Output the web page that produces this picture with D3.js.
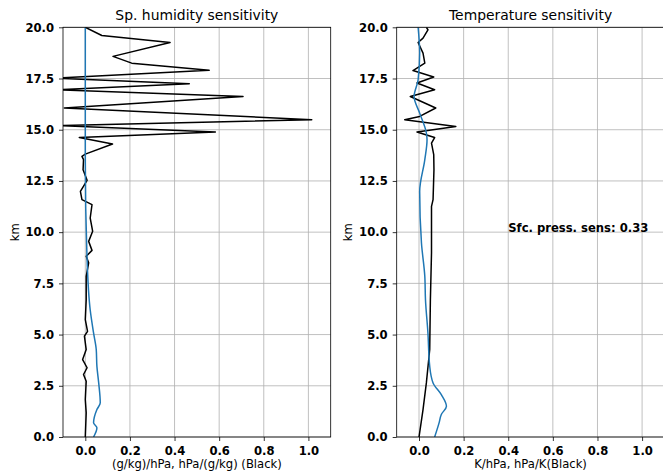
<!DOCTYPE html>
<html>
<head>
<meta charset="utf-8">
<script src="https://cdn.jsdelivr.net/npm/d3@7"></script>
<style>
  body { margin: 0; background: #fff; }
  text { font-family: "DejaVu Sans", sans-serif; }
</style>
</head>
<body>
<svg id="chart" width="663" height="475"></svg>
<script>
// --- data ---
const humBlackKm  = [20, 19.6, 19.26, 18.58, 18.25, 17.9, 17.52, 17.24, 16.95, 16.62, 16.06, 15.49, 15.2, 14.89, 14.62, 14.3, 13.81, 13.7, 13.54, 13.05, 12.53, 11.99, 11.59, 11.34, 10.69, 10.04, 9.55, 9.11, 8.82, 8.5, 7.84, 6.7, 5.73, 5.16, 4.92, 4.27, 3.78, 3.38, 3.05, 2.72, 1.83, 1.18, 0];
const humBlackVal = [0, 0.074, 0.38, 0.124, 0.208, 0.555, -0.13, 0.466, -0.12, 0.707, -0.094, 1.015, -0.12, 0.583, -0.027, 0.122, 0, -0.015, -0.008, -0.01, 0.008, -0.022, -0.015, 0.03, 0.022, 0.033, 0.015, 0.03, 0.004, 0.015, 0.004, 0.004, 0, 0.01, -0.004, 0.004, -0.012, 0.008, -0.008, 0.004, 0, 0.004, 0];

const humBlueKm  = [20, 13.5, 8.66, 6.2, 5.08, 4.27, 3.45, 2.64, 1.67, 1.34, 0.69, 0.45, 0];
const humBlueVal = [0, 0, 0.008, 0.022, 0.037, 0.049, 0.052, 0.06, 0.067, 0.052, 0.037, 0.052, 0.037];

const tempBlackKm  = [20, 19.88, 19.47, 19.26, 18.74, 18.25, 17.89, 17.57, 17.28, 16.95, 16.62, 16.06, 15.65, 15.49, 15.16, 14.89, 14.62, 14.35, 13.78, 13.05, 11.59, 11.26, 8.98, 6.7, 4.27, 2.64, 1.34, 0];
const tempBlackVal = [0.033, 0.04, 0.018, -0.004, 0.018, 0.026, -0.027, 0.066, -0.009, 0.07, -0.039, 0.075, 0.003, -0.064, 0.165, -0.009, 0.07, 0.056, 0.066, 0.067, 0.063, 0.056, 0.056, 0.051, 0.048, 0.033, 0.018, 0];

const tempBlueKm  = [20, 18.74, 17.44, 16.62, 15.81, 14.84, 14.51, 13.54, 11.99, 9.47, 7.84, 6.7, 5.08, 3.45, 2.64, 2.07, 1.5, 1.1, 0.69, 0];
const tempBlueVal = [-0.004, 0.003, -0.004, -0.022, 0.003, 0.033, 0.036, 0.026, 0.003, 0.011, 0.026, 0.029, 0.04, 0.048, 0.063, 0.1, 0.123, 0.1, 0.09, 0.07];

const xTicks = [0.0, 0.2, 0.4, 0.6, 0.8, 1.0];
const yTicks = [0, 2.5, 5, 7.5, 10, 12.5, 15, 17.5, 20];

const panels = [
  { title: 'Sp. humidity sensitivity', xlabel: '(g/kg)/hPa, hPa/(g/kg) (Black)', left: 63,
    black: [humBlackVal, humBlackKm], blue: [humBlueVal, humBlueKm], note: null },
  { title: 'Temperature sensitivity', xlabel: 'K/hPa, hPa/K(Black)', left: 396.7,
    black: [tempBlackVal, tempBlackKm], blue: [tempBlueVal, tempBlueKm], note: 'Sfc. press. sens: 0.33' }
];

const W = 267.7, yTop = 27.3, yBot = 437;
const svg = d3.select('#chart');

panels.forEach((p, i) => {
  const x = d3.scaleLinear().domain([-0.1, 1.1]).range([p.left, p.left + W]);
  const y = d3.scaleLinear().domain([0, 20]).range([yBot, yTop]);
  const g = svg.append('g');

  g.append('clipPath').attr('id', 'clip' + i)
    .append('rect').attr('x', p.left).attr('y', yTop).attr('width', W).attr('height', yBot - yTop);

  // grid
  g.selectAll('.gx').data(xTicks).join('line')
    .attr('x1', d => x(d)).attr('x2', d => x(d)).attr('y1', yTop).attr('y2', yBot)
    .attr('stroke', '#b0b0b0').attr('stroke-width', 0.8);
  g.selectAll('.gy').data(yTicks).join('line')
    .attr('x1', p.left).attr('x2', p.left + W).attr('y1', d => y(d)).attr('y2', d => y(d))
    .attr('stroke', '#b0b0b0').attr('stroke-width', 0.8);

  const line = d3.line().x(d => x(d[0])).y(d => y(d[1]));
  const zipped = s => s[0].map((v, k) => [v, s[1][k]]);

  const plot = g.append('g').attr('clip-path', `url(#clip${i})`);
  plot.append('path').datum(zipped(p.black))
    .attr('d', line).attr('fill', 'none').attr('stroke', 'black').attr('stroke-width', 1.5)
    .attr('stroke-linejoin', 'round');
  plot.append('path').datum(zipped(p.blue))
    .attr('d', line.curve(d3.curveMonotoneY)).attr('fill', 'none').attr('stroke', '#1f77b4').attr('stroke-width', 1.5);

  // axes
  const xAxis = g.append('g').attr('transform', `translate(0,${yBot})`)
    .call(d3.axisBottom(x).tickValues(xTicks).tickFormat(d3.format('.1f')).tickSize(4).tickPadding(5.5));
  const yAxis = g.append('g').attr('transform', `translate(${p.left},0)`)
    .call(d3.axisLeft(y).tickValues(yTicks).tickFormat(d3.format('.1f')).tickSize(4).tickPadding(5));
  [xAxis, yAxis].forEach(a => {
    a.select('.domain').remove();
    a.selectAll('text').attr('font-family', 'DejaVu Sans').attr('font-size', 11.6)
      .attr('font-weight', 'bold').attr('fill', 'black');
    a.selectAll('line').attr('stroke', 'black').attr('stroke-width', 0.8);
  });

  // spines
  g.append('rect').attr('x', p.left).attr('y', yTop).attr('width', W).attr('height', yBot - yTop)
    .attr('fill', 'none').attr('stroke', 'black').attr('stroke-width', 0.8);

  g.append('text').attr('x', p.left + W / 2).attr('y', yTop - 7).attr('text-anchor', 'middle')
    .attr('font-size', 13.9).text(p.title);
  g.append('text').attr('x', p.left + W / 2).attr('y', 468).attr('text-anchor', 'middle')
    .attr('font-size', 11.6).text(p.xlabel);
  g.append('text').attr('transform', `translate(${p.left - 44.5},${(yTop + yBot) / 2}) rotate(-90)`)
    .attr('text-anchor', 'middle').attr('font-size', 11.6).text('km');

  if (p.note) {
    g.append('text').attr('x', x(0.4)).attr('y', y(10)).attr('font-size', 11.6)
      .attr('font-weight', 'bold').text(p.note);
  }
});
</script>
</body>
</html>
